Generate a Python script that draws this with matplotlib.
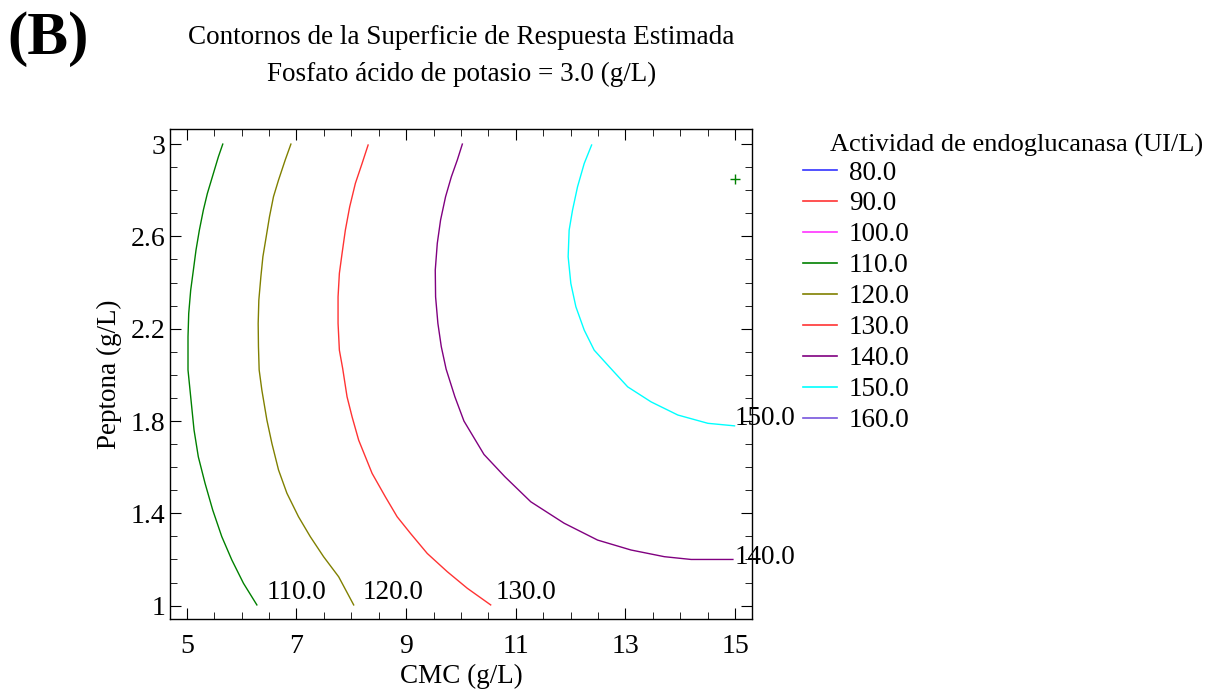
import matplotlib
matplotlib.use('Agg')
import matplotlib.pyplot as plt
from matplotlib.lines import Line2D

plt.rcParams['font.family'] = ['Liberation Serif', 'DejaVu Serif']

# contour levels shown in the legend and their colours
levels = [80.0, 90.0, 100.0, 110.0, 120.0, 130.0, 140.0, 150.0, 160.0]
level_colors = ['#3333ff', '#ff3333', '#ff33ff', '#008000', '#808000',
                '#ff3333', '#800080', '#00ffff', '#7755dd']

# contour lines (CMC, Peptona)
c110_x = [5.656, 5.576, 5.485, 5.375, 5.302, 5.229, 5.168, 5.12, 5.071, 5.035, 5.022,
          5.022, 5.071, 5.132, 5.21, 5.333, 5.473, 5.638, 5.821, 6.033, 6.278]
c110_y = [3.0, 2.945, 2.873, 2.786, 2.714, 2.627, 2.541, 2.454, 2.367, 2.266, 2.165,
          2.021, 1.905, 1.761, 1.645, 1.53, 1.414, 1.299, 1.198, 1.097, 1.003]

c120_x = [6.899, 6.795, 6.673, 6.581, 6.508, 6.448, 6.388, 6.351, 6.314, 6.302, 6.307,
          6.32, 6.369, 6.461, 6.552, 6.673, 6.826, 7.038, 7.252, 7.495, 7.77, 8.044]
c120_y = [3.0, 2.931, 2.844, 2.772, 2.685, 2.598, 2.512, 2.425, 2.324, 2.223, 2.122,
          2.021, 1.934, 1.804, 1.703, 1.588, 1.487, 1.385, 1.299, 1.212, 1.125, 1.003]

c130_x = [8.307, 8.197, 8.075, 7.971, 7.892, 7.832, 7.783, 7.759, 7.759, 7.783, 7.843,
          7.923, 8.015, 8.135, 8.38, 8.623, 8.837, 9.08, 9.386, 9.751, 10.117, 10.543]
c130_y = [2.996, 2.916, 2.83, 2.728, 2.627, 2.526, 2.44, 2.338, 2.223, 2.107, 2.028,
          1.905, 1.818, 1.717, 1.573, 1.471, 1.385, 1.313, 1.226, 1.147, 1.075, 1.003]

c140_x = [10.026, 9.934, 9.825, 9.72, 9.629, 9.569, 9.532, 9.538, 9.58, 9.642, 9.73,
          9.89, 10.055, 10.421, 10.80, 11.274, 11.883, 12.493, 13.102, 13.711, 14.199, 14.961]
c140_y = [3.0, 2.931, 2.858, 2.772, 2.671, 2.57, 2.454, 2.338, 2.223, 2.122, 2.025,
          1.905, 1.8, 1.655, 1.559, 1.45, 1.357, 1.284, 1.241, 1.212, 1.2, 1.2]

c150_x = [12.384, 12.249, 12.127, 12.036, 11.974, 11.956, 12.005, 12.097, 12.249, 12.431,
          12.706, 13.042, 13.468, 13.956, 14.505, 14.991]
c150_y = [2.996, 2.916, 2.815, 2.714, 2.627, 2.512, 2.396, 2.295, 2.194, 2.107,
          2.035, 1.948, 1.883, 1.826, 1.79, 1.779]

drawn = [(110.0, c110_x, c110_y), (120.0, c120_x, c120_y), (130.0, c130_x, c130_y),
         (140.0, c140_x, c140_y), (150.0, c150_x, c150_y)]

# label positions on the contours
label_text = ['110.0', '120.0', '130.0', '150.0', '140.0']
label_x = [6.45, 8.21, 10.63, 15.0, 15.0]
label_y = [1.055, 1.055, 1.055, 1.81, 1.21]

# optimum point marker
opt_x = [15.0]
opt_y = [2.848]

fig = plt.figure(figsize=(12.11, 6.89), dpi=100)
ax = fig.add_axes([0.1404, 0.1016, 0.4806, 0.7107])

for lev, xs, ys in drawn:
    ax.plot(xs, ys, color=level_colors[levels.index(lev)], lw=1.0)

for t, x, y in zip(label_text, label_x, label_y):
    ax.text(x, y, t, fontsize=19.5, ha='left', va='center')

ax.plot(opt_x, opt_y, marker='+', color='#008000', ms=7, mew=1.0, ls='none')

ax.set_xlim(4.694, 15.31)
ax.set_ylim(0.942, 3.064)
ax.set_xticks([5, 7, 9, 11, 13, 15])
ax.set_xticks([5 + 0.5 * i for i in range(21)], minor=True)
ax.set_yticks([1, 1.4, 1.8, 2.2, 2.6, 3])
ax.set_yticklabels(['1', '1.4', '1.8', '2.2', '2.6', '3'])
ax.set_yticks([1 + 0.1 * i for i in range(21)], minor=True)
ax.tick_params(which='both', direction='in', top=True, right=True, labelsize=20)
ax.tick_params(which='major', length=8)
ax.tick_params(which='minor', length=5)
ax.tick_params(axis='x', pad=11)
for s in ax.spines.values():
    s.set_linewidth(1.0)

ax.set_xlabel('CMC (g/L)', fontsize=19.5, labelpad=3)
ax.set_ylabel('Peptona (g/L)', fontsize=19.5, labelpad=6)

fig.text(0.381, 0.946, 'Contornos de la Superficie de Respuesta Estimada',
         fontsize=19.5, ha='center', va='center')
fig.text(0.381, 0.892, 'Fosfato ácido de potasio = 3.0 (g/L)',
         fontsize=19.5, ha='center', va='center')
fig.text(0.006, 0.944, '(B)', fontsize=44, fontweight='bold', ha='left', va='center')

fig.text(0.6855, 0.789, 'Actividad de endoglucanasa (UI/L)', fontsize=19,
         ha='left', va='center')
handles = [Line2D([0], [0], color=c, lw=1.2) for c in level_colors]
fig.legend(handles, ['%.1f' % v for v in levels], loc='upper left',
           bbox_to_anchor=(0.663, 0.767), frameon=False, fontsize=19.5,
           handlelength=1.25, handletextpad=0.45, labelspacing=0.22,
           borderaxespad=0, borderpad=0)

fig.savefig('out.png', dpi=100)
